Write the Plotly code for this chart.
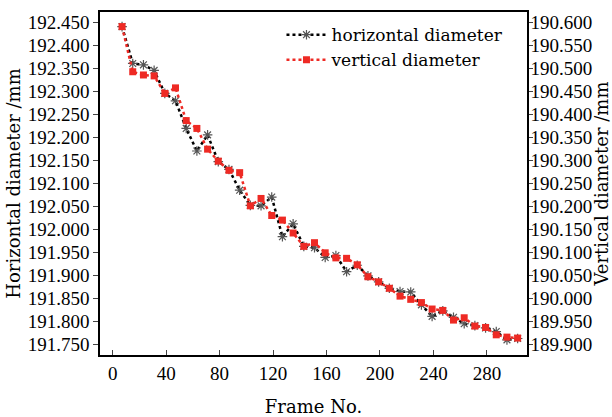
import plotly.graph_objects as go

frames = [7, 15, 23, 31, 39, 47, 55, 63, 71, 79, 87, 95, 103, 111, 119, 127, 135, 143, 151,
          159, 167, 175, 183, 191, 199, 207, 215, 223, 231, 239, 247, 255, 263, 271, 279, 287, 295, 303]

horizontal = [192.440, 192.360, 192.357, 192.345, 192.295, 192.279, 192.219, 192.170, 192.205,
              192.147, 192.130, 192.085, 192.052, 192.051, 192.070, 191.984, 192.012, 191.963,
              191.960, 191.939, 191.943, 191.908, 191.922, 191.899, 191.886, 191.872, 191.865,
              191.864, 191.836, 191.811, 191.823, 191.809, 191.795, 191.791, 191.786, 191.778,
              191.760, 191.763]

vertical = [190.590, 190.492, 190.485, 190.483, 190.445, 190.457, 190.386, 190.369, 190.324,
            190.298, 190.278, 190.273, 190.201, 190.217, 190.180, 190.170, 190.142, 190.113,
            190.121, 190.099, 190.088, 190.087, 190.073, 190.047, 190.036, 190.022, 190.005,
            189.998, 189.991, 189.977, 189.974, 189.953, 189.958, 189.940, 189.937, 189.921,
            189.916, 189.914]

x_ticks = [0, 40, 80, 120, 160, 200, 240, 280]
left_ticks = [191.750, 191.800, 191.850, 191.900, 191.950, 192.000, 192.050, 192.100, 192.150,
              192.200, 192.250, 192.300, 192.350, 192.400, 192.450]
left_labels = ["191.750", "191.800", "191.850", "191.900", "191.950", "192.000", "192.050",
               "192.100", "192.150", "192.200", "192.250", "192.300", "192.350", "192.400", "192.450"]
right_ticks = [189.900, 189.950, 190.000, 190.050, 190.100, 190.150, 190.200, 190.250, 190.300,
               190.350, 190.400, 190.450, 190.500, 190.550, 190.600]
right_labels = ["189.900", "189.950", "190.000", "190.050", "190.100", "190.150", "190.200",
                "190.250", "190.300", "190.350", "190.400", "190.450", "190.500", "190.550", "190.600"]

TEXT_FONT = "DejaVu Serif"
TICK_FONT = "Liberation Serif"

fig = go.Figure()
fig.add_trace(go.Scatter(
    x=frames, y=horizontal, name="horizontal diameter", mode="lines+markers",
    line=dict(color="black", width=2.5, dash="dot"),
    marker=dict(symbol="asterisk-open", size=8, color="#555555", line=dict(color="#555555", width=1.2)),
    yaxis="y"))
fig.add_trace(go.Scatter(
    x=frames, y=vertical, name="vertical diameter", mode="lines+markers",
    line=dict(color="#ee2a24", width=2.5, dash="dot"),
    marker=dict(symbol="square", size=7, color="#ee2a24"),
    yaxis="y2"))

fig.update_layout(
    width=612, height=417,
    margin=dict(l=100, r=85, t=12, b=62, autoexpand=False),
    plot_bgcolor="white", paper_bgcolor="white",
    font=dict(family=TEXT_FONT, size=17, color="black"),
    showlegend=True,
    legend=dict(x=0.425, y=0.985, xanchor="left", yanchor="top", bgcolor="rgba(0,0,0,0)",
                font=dict(family=TEXT_FONT, size=17), itemwidth=40, tracegroupgap=0),
    xaxis=dict(range=[-9.5, 310], tickvals=x_ticks, ticks="inside", ticklen=5, tickwidth=1.2,
               showline=True, linecolor="black", linewidth=1.5, mirror=True, showgrid=False,
               zeroline=False, tickfont=dict(family=TICK_FONT, size=19), ticklabelstandoff=0,
               automargin=False,
               title=dict(text="Frame No.", font=dict(family=TEXT_FONT, size=18), standoff=18)),
    yaxis=dict(range=[191.7272, 192.4717], tickvals=left_ticks, ticktext=left_labels,
               ticks="outside", ticklen=5, tickwidth=1.2, automargin=False,
               showline=True, linecolor="black", linewidth=1.5, showgrid=False, zeroline=False,
               tickfont=dict(family=TICK_FONT, size=19),
               title=dict(text="Horizontal diameter /mm", font=dict(family=TEXT_FONT, size=18), standoff=2)),
    yaxis2=dict(range=[189.8772, 190.6217], tickvals=right_ticks, ticktext=right_labels,
                overlaying="y", side="right", automargin=False,
                ticks="outside", ticklen=4, tickwidth=1.2, ticklabelstandoff=-6,
                showline=True, linecolor="black", linewidth=1.5, showgrid=False, zeroline=False,
                tickfont=dict(family=TICK_FONT, size=19),
                title=dict(text="Vertical diameter /mm", font=dict(family=TEXT_FONT, size=18), standoff=0)),
)

fig.write_html("out.html")
